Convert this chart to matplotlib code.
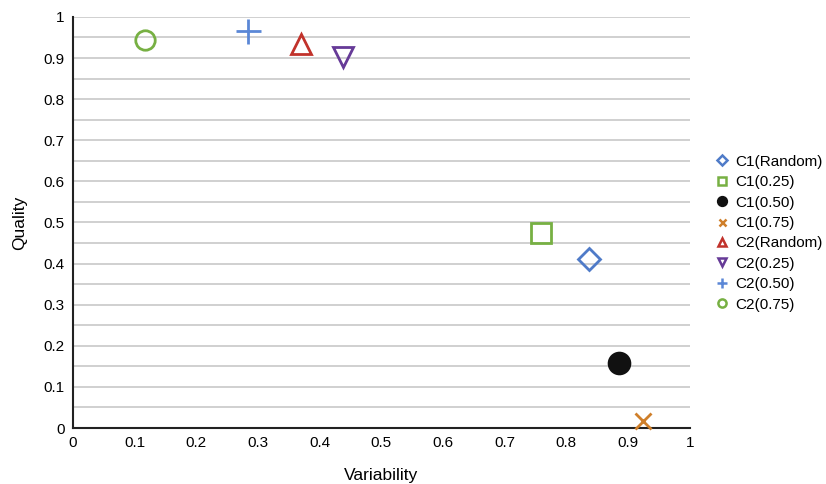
import matplotlib
matplotlib.use('Agg')
import matplotlib.pyplot as plt
import numpy as np

plt.rcParams['font.family'] = ['Liberation Sans', 'DejaVu Sans']

# series data
labels = ['C1(Random)', 'C1(0.25)', 'C1(0.50)', 'C1(0.75)',
          'C2(Random)', 'C2(0.25)', 'C2(0.50)', 'C2(0.75)']
variability = [0.837, 0.759, 0.885, 0.924, 0.370, 0.438, 0.284, 0.117]
quality = [0.410, 0.474, 0.157, 0.017, 0.935, 0.903, 0.966, 0.944]

markers = ['D', 's', 'o', 'x', '^', 'v', '+', 'o']
colors = ['#4f7bc8', '#77b043', '#111111', '#cf7f2a', '#c1322b', '#663a97', '#5b87d6', '#77b043']
filled = [False, False, True, False, False, False, False, False]
sizes = [11, 14, 15, 12, 15, 15, 18, 14]

fig = plt.figure(figsize=(8.26, 4.84), dpi=100)
ax = fig.add_axes([0.0884, 0.1157, 0.7466, 0.8493])

for i in range(len(labels)):
    face = colors[i] if filled[i] else 'none'
    ax.plot(variability[i], quality[i], linestyle='none', marker=markers[i],
            markersize=sizes[i], markerfacecolor=face, markeredgecolor=colors[i],
            markeredgewidth=2, label=labels[i], clip_on=False, zorder=3)

ax.set_xlim(0, 1)
ax.set_ylim(0, 1)
ax.set_xticks(np.arange(0, 1.01, 0.1))
ax.set_xticklabels(['0', '0.1', '0.2', '0.3', '0.4', '0.5', '0.6', '0.7', '0.8', '0.9', '1'])
ax.set_yticks(np.arange(0, 1.01, 0.1))
ax.set_yticklabels(['0', '0.1', '0.2', '0.3', '0.4', '0.5', '0.6', '0.7', '0.8', '0.9', '1'])
ax.set_yticks(np.arange(0.05, 1, 0.1), minor=True)
ax.tick_params(axis='both', length=0, labelsize=11, pad=6)
ax.tick_params(which='minor', length=0)
ax.grid(axis='y', which='both', color='#c8c8c8', linewidth=1.2)
ax.set_axisbelow(True)

for s in ['top', 'right']:
    ax.spines[s].set_visible(False)
for s in ['left', 'bottom']:
    ax.spines[s].set_color('#222222')
    ax.spines[s].set_linewidth(1.5)

ax.set_xlabel('Variability', fontsize=12.5, labelpad=13)
ax.set_ylabel('Quality', fontsize=12.5, labelpad=12)

leg = ax.legend(loc='center left', bbox_to_anchor=(1.02, 0.474), frameon=False,
                fontsize=11, markerscale=0.42, handlelength=0.8,
                handletextpad=0.5, labelspacing=0.42)
for h in leg.legend_handles:
    h.set_markeredgewidth(1.8)

fig.savefig('out.png', dpi=100)
